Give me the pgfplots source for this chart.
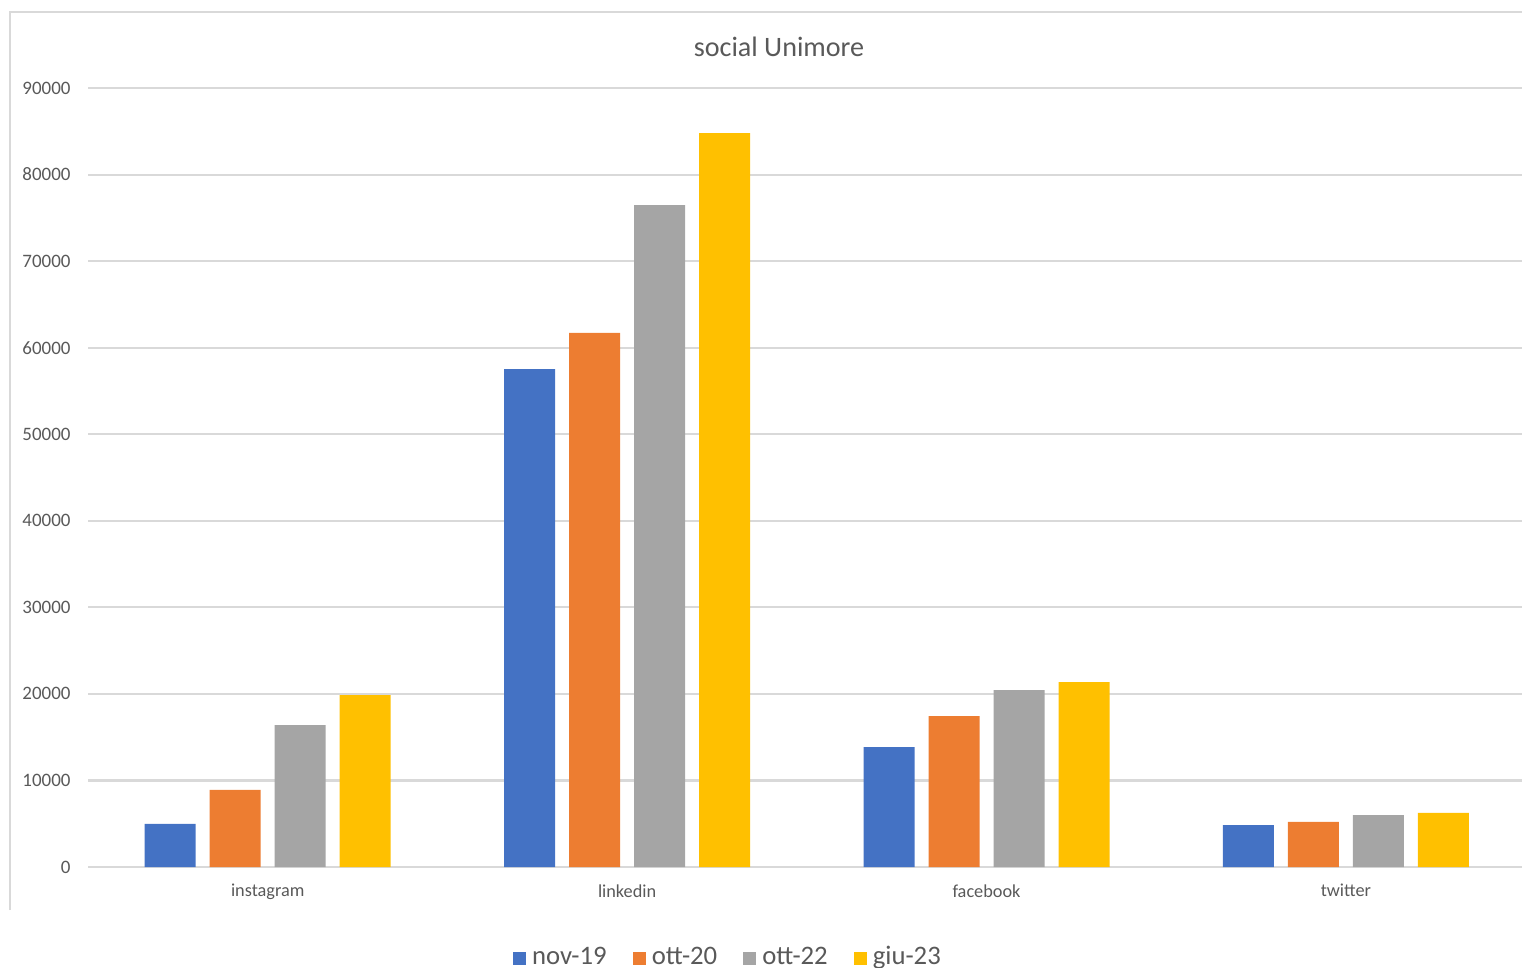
\documentclass[border=0pt]{standalone}
\usepackage{pgfplots}
\pgfplotsset{compat=1.18}
\usepackage{fontspec}
\setmainfont{Carlito}
\definecolor{cblue}{HTML}{4472C4}
\definecolor{corange}{HTML}{ED7D31}
\definecolor{cgray}{HTML}{A5A5A5}
\definecolor{cgold}{HTML}{FFC000}
\definecolor{gridc}{HTML}{D9D9D9}
\definecolor{txt}{HTML}{595959}
\begin{document}
\begin{tikzpicture}
\useasboundingbox (0,0) rectangle (15.22,9.67);
\draw[gridc, line width=0.6pt] (0.10,0.57) -- (0.10,9.55) -- (15.22,9.55);
\begin{axis}[
  at={(0.88cm,1.00cm)}, anchor=south west,
  scale only axis, width=14.34cm, height=7.79cm,
  ybar=0.14cm, bar width=0.51cm,
  xmin=-0.5, xmax=3.49, ymin=0, ymax=90000,
  xtick={0,1,2,3}, xticklabels={instagram,linkedin,facebook,twitter},
  ytick={0,10000,...,90000},
  scaled y ticks=false,
  /pgf/number format/1000 sep={},
  /pgf/number format/assume math mode=true,
  axis line style={draw=none},
  major tick length=0pt,
  tick style={draw=none},
  ymajorgrids, major grid style={gridc, line width=0.6pt},
  yticklabel style={font=\fontsize{5.4}{6}\selectfont, text=txt, xshift=-0.05cm},
  xticklabel style={font=\fontsize{5.2}{6}\selectfont, text=txt, yshift=-0.05cm},
  legend columns=4,
  legend style={draw=none, fill=none, at={(0.448,-0.117)}, anchor=center,
    font=\fontsize{7.6}{9}\selectfont, text=txt,
    /tikz/every even column/.append style={column sep=0.19cm},
    /tikz/every odd column/.append style={column sep=-0.01cm}},
  legend image code/.code={\fill[#1] (0cm,-0.065cm) rectangle (0.13cm,0.065cm);},
]
\addplot[fill=cblue, draw=none] coordinates {(0,4970) (1,57530) (2,13860) (3,4850)};
\addplot[fill=corange, draw=none] coordinates {(0,8900) (1,61700) (2,17440) (3,5200)};
\addplot[fill=cgray, draw=none] coordinates {(0,16400) (1,76480) (2,20450) (3,6000)};
\addplot[fill=cgold, draw=none] coordinates {(0,19870) (1,84800) (2,21370) (3,6240)};
\legend{nov-19,ott-20,ott-22,giu-23}
\end{axis}
\node[font=\fontsize{8}{10}\selectfont, text=txt, anchor=center] at (7.79,9.20) {social Unimore};
\end{tikzpicture}
\end{document}
